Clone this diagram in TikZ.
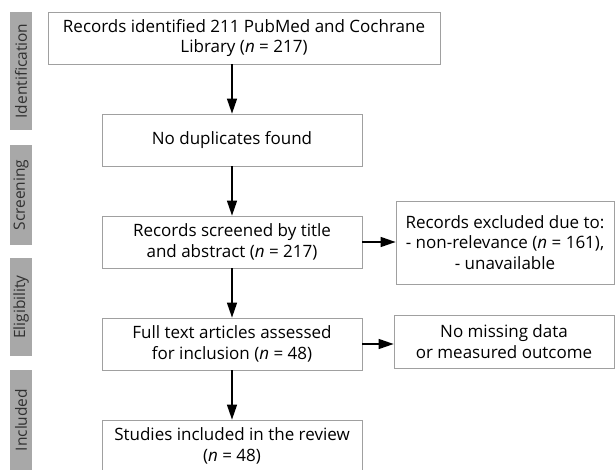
\documentclass[tikz,border=0pt]{standalone}
\usepackage{fontspec}
\setmainfont{Open Sans}
\usetikzlibrary{arrows.meta}
\definecolor{boxline}{HTML}{A0A0A0}
\definecolor{stagefill}{HTML}{A8A8A8}
\definecolor{stagetext}{HTML}{303030}
\begin{document}
\begin{tikzpicture}[x=1pt,y=-1pt,
  every node/.style={font=\fontsize{17}{20.5}\selectfont},
  flowbox/.style={draw=boxline, line width=0.8pt, fill=white, align=center, inner sep=0pt},
  stage/.style={fill=stagefill, text=stagetext, rotate=90, inner sep=0pt, minimum height=22pt, font=\fontsize{15.5}{18}\selectfont},
  flowarrow/.style={-{Triangle[length=15pt,width=10pt]}, line width=1.4pt, black}]
\useasboundingbox (0,0) rectangle (615,470);
\node[flowbox, minimum width=392pt, minimum height=52pt] (ident) at (244,38) {Records identified 211 PubMed and Cochrane\\Library (\textit{n} = 217)};
\node[flowbox, minimum width=260pt, minimum height=52pt] (dup) at (232,140) {No duplicates found};
\node[flowbox, minimum width=260pt, minimum height=52pt] (screen) at (232,242) {Records screened by title\\and abstract (\textit{n} = 217)};
\node[flowbox, minimum width=260pt, minimum height=52pt] (full) at (232,344) {Full text articles assessed\\for inclusion (\textit{n} = 48)};
\node[flowbox, minimum width=260pt, minimum height=52pt] (incl) at (232,446) {Studies included in the review\\(\textit{n} = 48)};
\node[flowbox, minimum width=218pt, minimum height=83pt] (excl) at (505,242.5) {Records excluded due to:\\- non-relevance (\textit{n} = 161),\\- unavailable};
\node[flowbox, minimum width=220pt, minimum height=53pt] (miss) at (504,341.5) {No missing data\\or measured outcome};
\draw[flowarrow] (ident.south -| dup.north) -- (dup.north);
\draw[flowarrow] (dup) -- (screen);
\draw[flowarrow] (screen) -- (full);
\draw[flowarrow] (full) -- (incl);
\draw[flowarrow] (screen.east) -- (excl.west |- screen.east);
\draw[flowarrow] (full.east) -- (miss.west |- full.east);
\node[stage, minimum width=118pt] (s1) at (21,71) {Identification};
\node[stage, minimum width=100pt] (s2) at (21,195) {Screening};
\node[stage, minimum width=98pt] (s3) at (21,307) {Eligibility};
\node[stage, minimum width=100pt] (s4) at (21,420) {Included};
\end{tikzpicture}
\end{document}
